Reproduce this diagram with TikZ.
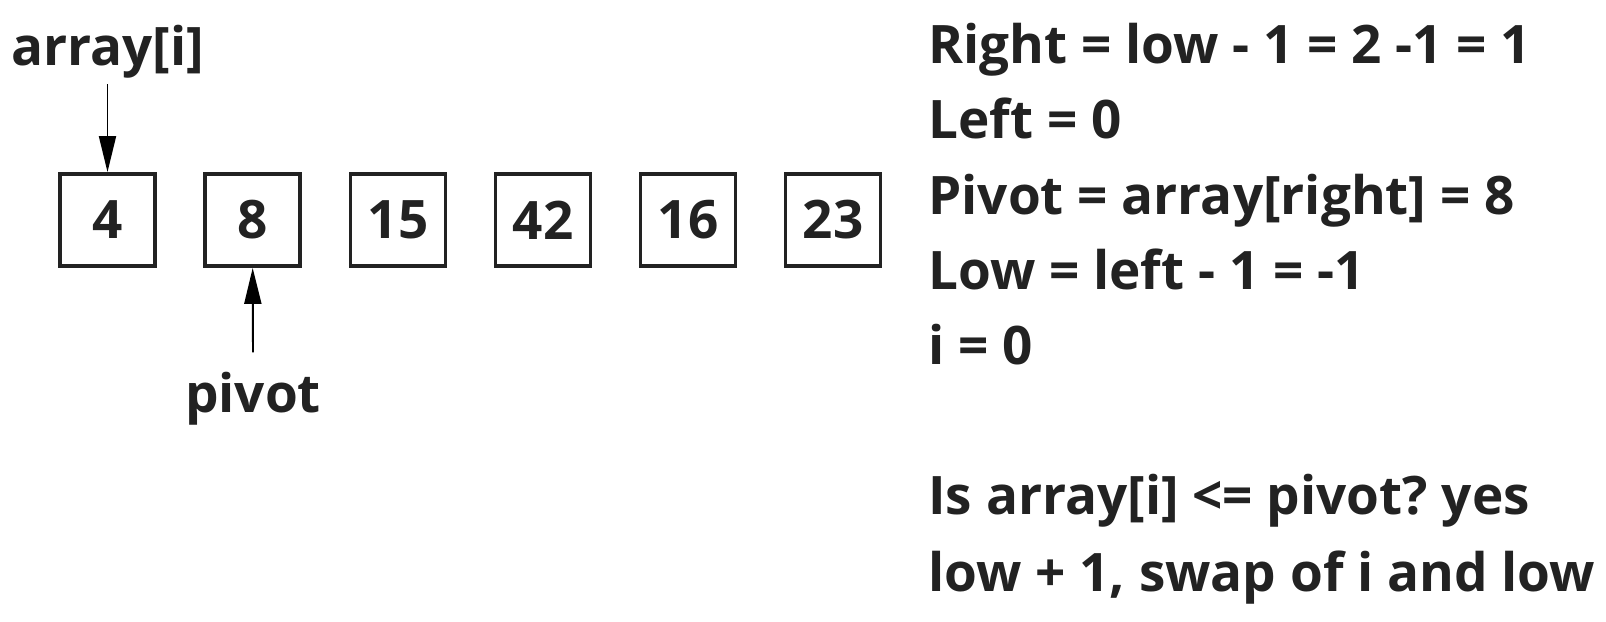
\documentclass[tikz,border=0pt]{standalone}
\usepackage{fontspec}
\setmainfont{Open Sans}
\usetikzlibrary{arrows.meta}
\definecolor{ink}{RGB}{34,34,34}
\frenchspacing
\tikzset{
  cell/.style={draw=ink,line width=2.2pt,minimum width=1.9cm,minimum height=1.84cm,inner sep=0pt,text=ink},
  lbl/.style={inner sep=0pt,text=ink,anchor=base},
  txt/.style={inner sep=0pt,text=ink,anchor=base west},
  ptr/.style={draw=black,line width=1.1pt,-{Triangle[length=0.72cm,width=0.34cm]}}
}
\begin{document}
\begin{tikzpicture}[x=0.02cm,y=-0.02cm,font=\fontsize{30.2}{43}\selectfont\bfseries]
\useasboundingbox (0,0) rectangle (1606,622);
% the array
\node[cell] (c1) at (107.5,220) {4};
\node[cell] (c2) at (252.7,220) {8};
\node[cell] (c3) at (398,220) {15};
\node[cell] (c4) at (543,220) {42};
\node[cell] (c5) at (688,220) {16};
\node[cell] (c6) at (833,220) {23};
% pointers
\node[lbl] (ai) at (107.5,65) {array[i]};
\node[lbl] (piv) at (253,412) {pivot};
\draw[ptr] ([yshift=-0.12cm]ai.south) -- (c1.north);
\draw[ptr] ([yshift=0.38cm]piv.north) -- (c2.south);
% state
\node[txt] (r1) at (928,63.5) {Right = low - 1 = 2 -1 = 1};
\node[txt] (r2) at (928,138) {Left = 0};
\node[txt] (r3) at (928,214) {Pivot = array[right] = 8};
\node[txt] (r4) at (928,289) {Low = left - 1 = -1};
\node[txt] (r5) at (928,364) {i = 0};
% check
\node[txt] (q1) at (928,514) {Is array[i] <= pivot? yes};
\node[txt] (q2) at (928,591) {low + 1, swap of i and low};
\end{tikzpicture}
\end{document}
